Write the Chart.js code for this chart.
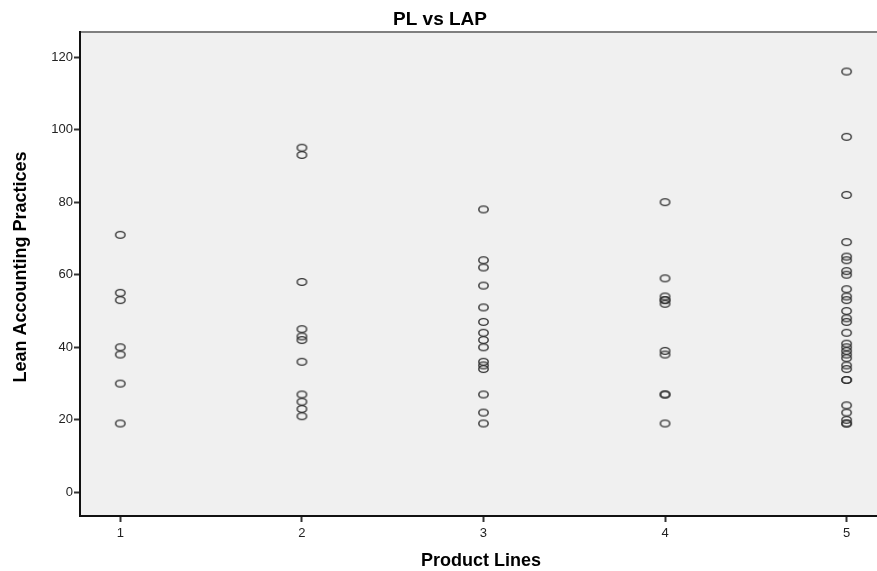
<!DOCTYPE html>
<html>
<head>
<meta charset="utf-8">
<script src="https://cdn.jsdelivr.net/npm/chart.js@4.4.1/dist/chart.umd.min.js"></script>
<style>
  html, body { margin: 0; padding: 0; background: #ffffff; overflow: hidden; }
  #wrap { width: 877px; height: 571px; position: relative; overflow: hidden; }
</style>
</head>
<body>
<div id="wrap"><canvas id="c" width="884" height="571"></canvas></div>
<script>
// ---- data ----
const productLines = [1, 2, 3, 4, 5];
const lapLine1 = [71, 55, 53, 40, 38, 30, 19];
const lapLine2 = [95, 93, 58, 45, 43, 42, 36, 27, 25, 23, 21];
const lapLine3 = [78, 64, 62, 57, 51, 47, 44, 42, 40, 36, 35, 34, 27, 22, 19];
const lapLine4 = [80, 59, 54, 53, 53, 52, 39, 38, 27, 27, 19];
const lapLine5 = [116, 98, 82, 69, 65, 64, 61, 60, 56, 54, 53, 50, 48, 47, 44, 41, 40, 39, 38, 37, 35, 34, 31, 31, 24, 22, 20, 19, 19];
const yTickValues = [0, 20, 40, 60, 80, 100, 120];
const xTickValues = [1, 2, 3, 4, 5];
const chartTitle = 'PL vs LAP';
const xTitle = 'Product Lines';
const yTitle = 'Lean Accounting Practices';

const groups = [lapLine1, lapLine2, lapLine3, lapLine4, lapLine5];
const points = [];
groups.forEach((vals, i) => vals.forEach(v => points.push({ x: productLines[i], y: v })));

// ellipse marker like SPSS
const marker = document.createElement('canvas');
marker.width = 13; marker.height = 10;
(function () {
  const g = marker.getContext('2d');
  g.strokeStyle = '#333333';
  g.lineWidth = 1.4;
  g.beginPath();
  g.ellipse(6.5, 5, 4.7, 3.4, 0, 0, Math.PI * 2);
  g.stroke();
})();

const FONT = '"Liberation Sans", Arial, sans-serif';

const decorPlugin = {
  id: 'decor',
  beforeDraw(chart) {
    const { ctx, chartArea: a } = chart;
    ctx.save();
    ctx.fillStyle = '#f0f0f0';
    ctx.fillRect(a.left, a.top, a.right - a.left + 10, a.bottom - a.top);
    ctx.strokeStyle = '#7f7f7f';
    ctx.lineWidth = 2;
    ctx.beginPath();
    ctx.moveTo(a.left, a.top);
    ctx.lineTo(a.right + 10, a.top);
    ctx.stroke();
    ctx.restore();
  },
  afterDraw(chart) {
    const { ctx, chartArea: a } = chart;
    ctx.save();
    ctx.fillStyle = '#000';
    ctx.textBaseline = 'alphabetic';
    ctx.textAlign = 'center';
    // chart title
    ctx.font = 'bold 19px ' + FONT;
    ctx.fillText(chartTitle, 440, 25);
    // x title
    ctx.font = 'bold 18px ' + FONT;
    ctx.fillText(xTitle, 481, 566);
    // y title
    ctx.translate(26, 267);
    ctx.rotate(-Math.PI / 2);
    ctx.fillText(yTitle, 0, 0);
    ctx.restore();
  }
};

new Chart(document.getElementById('c'), {
  type: 'scatter',
  data: {
    datasets: [{
      data: points,
      pointStyle: marker,
      pointRadius: 5,
      pointHoverRadius: 5
    }]
  },
  options: {
    responsive: false,
    animation: false,
    devicePixelRatio: 1,
    layout: { padding: { left: 0, right: 0, top: 32, bottom: 0 } },
    plugins: {
      legend: { display: false },
      tooltip: { enabled: false },
      title: { display: false }
    },
    scales: {
      x: {
        type: 'linear',
        min: 0.778,
        max: 5.173,
        afterBuildTicks(scale) { scale.ticks = xTickValues.map(v => ({ value: v })); },
        afterFit(scale) { scale.height = 55; },
        grid: { display: true, drawOnChartArea: false, drawTicks: true, tickLength: 6, tickColor: '#333', tickWidth: 2 },
        border: { display: true, color: '#111', width: 2 },
        ticks: {
          color: '#222',
          padding: 4,
          font: { family: FONT, size: 13 }
        }
      },
      y: {
        type: 'linear',
        min: -6.5,
        max: 126.9,
        afterBuildTicks(scale) { scale.ticks = yTickValues.map(v => ({ value: v })); },
        afterFit(scale) { scale.width = 80; },
        grid: { display: true, drawOnChartArea: false, drawTicks: true, tickLength: 6, tickColor: '#333', tickWidth: 2 },
        border: { display: true, color: '#111', width: 2 },
        ticks: {
          color: '#222',
          padding: 1,
          font: { family: FONT, size: 13 }
        }
      }
    }
  },
  plugins: [decorPlugin]
});
</script>
</body>
</html>
